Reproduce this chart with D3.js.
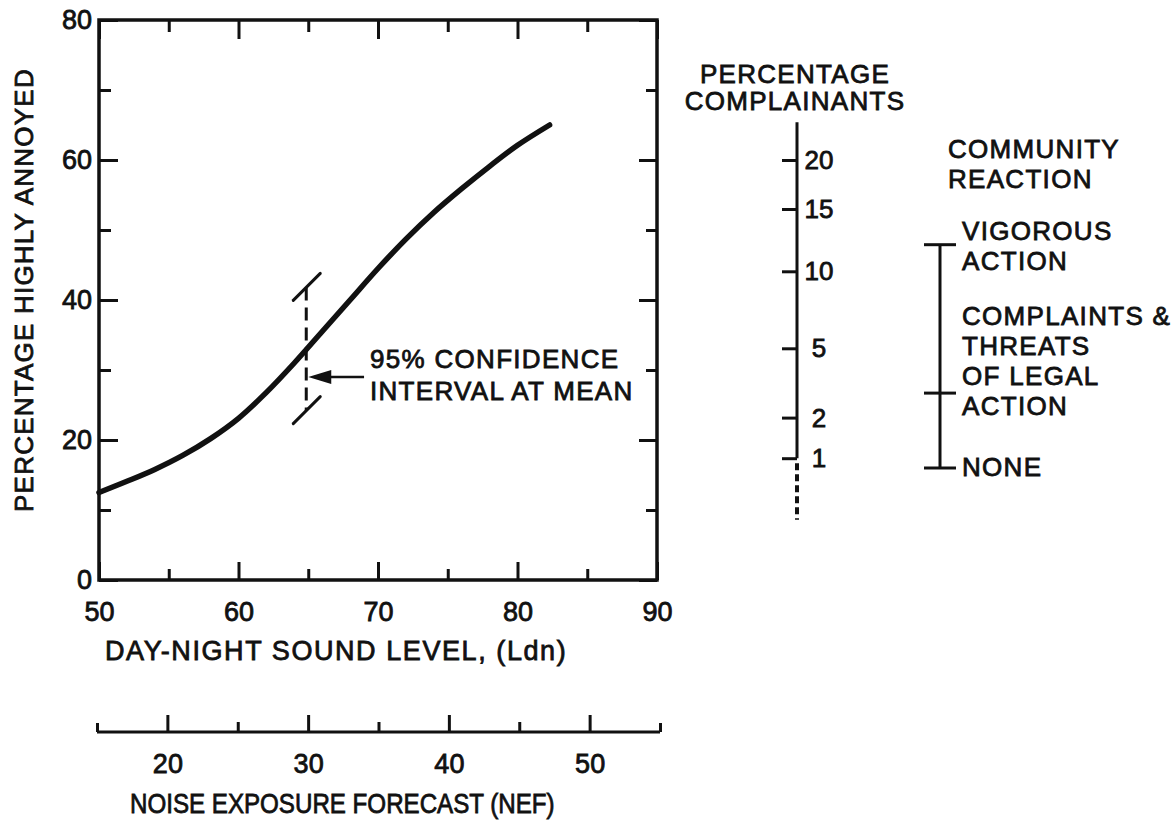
<!DOCTYPE html>
<html>
<head>
<meta charset="utf-8">
<script src="https://cdn.jsdelivr.net/npm/d3@7"></script>
<style>
  html, body { margin: 0; padding: 0; background: #fff; }
  #container { width: 1176px; height: 820px; }
  text { font-family: "Liberation Sans", Arial, Helvetica, sans-serif; fill: #111; stroke: #111; stroke-width: 0.8px; }
  .lbl { letter-spacing: 1.3px; }
</style>
</head>
<body>
<div id="container"></div>
<script>
// curve: day-night level vs % highly annoyed
let ldn        = [50, 52, 54, 56, 58, 60, 62, 64, 66, 68, 70, 72, 74, 76, 78, 80, 82.3];
let pctAnnoyed = [12.5, 14.1, 15.8, 17.8, 20.2, 23.1, 26.8, 31.0, 35.5, 40.0, 44.5, 48.7, 52.5, 55.9, 59.1, 62.1, 65.0];

let ldnMajor = [50, 60, 70, 80, 90];
let ldnMinor = [55, 65, 75, 85];
let annoyedMajor = [0, 20, 40, 60, 80];
let annoyedMinor = [10, 30, 50, 70];

// confidence interval at the mean
let ciLdn = 65, ciUpper = 41.8, ciLower = 24.2;
let ciArrowAt = 29, ciArrowFrom = 69;

// percentage complainants, and where each tick sits on the annoyance scale
let complainantTicks   = [1, 2, 5, 10, 15, 20];
let complainantAnnoyed = [17.4, 23.2, 33.1, 44.1, 53.0, 60.0];
let complainantTop = 65.4, complainantDashEnd = 8.6;

// community reaction levels
let reactionAnnoyed = [16.0, 26.7, 47.9];
let reactionLabels  = [['NONE'], ['COMPLAINTS &', 'THREATS', 'OF LEGAL', 'ACTION'], ['VIGOROUS', 'ACTION']];

// noise exposure forecast (NEF = Ldn - 35)
let nefMajor = [20, 30, 40, 50];
let nefMinor = [25, 35, 45];
let nefEnds  = [15, 55];

let viz = d3.select('#container')
    .append('svg')
      .attr('width', 1176)
      .attr('height', 820)
      .style('background', '#fff');

let x = d3.scaleLinear().domain([50, 90]).range([99, 657]);
let y = d3.scaleLinear().domain([0, 80]).range([580, 20]);
let nef = d3.scaleLinear().domain([15, 55]).range([97, 660]);
let comp = d3.scaleLinear().domain(complainantTicks).range(complainantAnnoyed.map(y));

function styleAxis(g, size) {
    g.attr('font-size', size).attr('font-family', null);
    g.select('.domain').remove();
    g.selectAll('.tick line').attr('stroke', '#111').attr('stroke-width', 3);
}

function main() {
    // main frame axes
    viz.append('g').attr('transform', 'translate(0,580)')
        .call(d3.axisBottom(x).tickValues(ldnMajor).tickSize(-18).tickPadding(22))
        .call(styleAxis, 27);
    viz.append('g').attr('transform', 'translate(0,580)')
        .call(d3.axisBottom(x).tickValues(ldnMinor).tickSize(-11).tickFormat(''))
        .call(styleAxis, 27);
    viz.append('g').attr('transform', 'translate(0,20)')
        .call(d3.axisTop(x).tickValues(ldnMajor).tickSize(-19).tickFormat(''))
        .call(styleAxis, 27);
    viz.append('g').attr('transform', 'translate(0,20)')
        .call(d3.axisTop(x).tickValues(ldnMinor).tickSize(-12).tickFormat(''))
        .call(styleAxis, 27);
    viz.append('g').attr('transform', 'translate(99,0)')
        .call(d3.axisLeft(y).tickValues(annoyedMajor).tickSize(-19).tickPadding(7))
        .call(styleAxis, 27);
    viz.append('g').attr('transform', 'translate(99,0)')
        .call(d3.axisLeft(y).tickValues(annoyedMinor).tickSize(-12).tickFormat(''))
        .call(styleAxis, 27);
    viz.append('g').attr('transform', 'translate(657,0)')
        .call(d3.axisRight(y).tickValues(annoyedMajor).tickSize(-18).tickFormat(''))
        .call(styleAxis, 27);
    viz.append('g').attr('transform', 'translate(657,0)')
        .call(d3.axisRight(y).tickValues(annoyedMinor).tickSize(-11).tickFormat(''))
        .call(styleAxis, 27);

    viz.append('rect')
        .attr('x', x(50)).attr('y', y(80))
        .attr('width', x(90) - x(50)).attr('height', y(0) - y(80))
        .attr('fill', 'none').attr('stroke', '#111').attr('stroke-width', 3.5);

    // axis titles
    viz.append('text').attr('class', 'lbl')
        .attr('transform', 'translate(33,290) rotate(-90)')
        .attr('text-anchor', 'middle').attr('font-size', 26)
        .attr('textLength', 444).attr('lengthAdjust', 'spacing')
        .text('PERCENTAGE HIGHLY ANNOYED');
    viz.append('text').attr('class', 'lbl')
        .attr('x', 105).attr('y', 660).attr('font-size', 27)
        .attr('textLength', 462).attr('lengthAdjust', 'spacing')
        .text('DAY-NIGHT SOUND LEVEL, (Ldn)');

    // the curve
    let line = d3.line().x(d => x(d[0])).y(d => y(d[1])).curve(d3.curveCatmullRom.alpha(0.5));
    viz.append('path')
        .datum(d3.zip(ldn, pctAnnoyed))
        .attr('d', line)
        .attr('fill', 'none').attr('stroke', '#111')
        .attr('stroke-width', 5.5).attr('stroke-linecap', 'round');

    // confidence interval
    let cx = x(ciLdn) - 2;
    viz.append('line')
        .attr('x1', cx).attr('x2', cx).attr('y1', y(ciUpper)).attr('y2', y(ciLower))
        .attr('stroke', '#111').attr('stroke-width', 3).attr('stroke-dasharray', '13,7');
    [ciUpper, ciLower].forEach(v => {
        viz.append('line')
            .attr('x1', cx - 13).attr('y1', y(v) + 13)
            .attr('x2', cx + 14).attr('y2', y(v) - 14)
            .attr('stroke', '#111').attr('stroke-width', 3).attr('stroke-linecap', 'round');
    });
    let ay = y(ciArrowAt);
    viz.append('line')
        .attr('x1', x(ciArrowFrom)).attr('x2', cx + 18).attr('y1', ay).attr('y2', ay)
        .attr('stroke', '#111').attr('stroke-width', 2.5);
    viz.append('path')
        .attr('d', 'M' + (cx + 2) + ',' + ay + 'L' + (cx + 25) + ',' + (ay - 7) + 'L' + (cx + 25) + ',' + (ay + 7) + 'Z')
        .attr('fill', '#111');
    viz.append('text').attr('class', 'lbl')
        .attr('x', 370).attr('y', 368).attr('font-size', 26)
        .text('95% CONFIDENCE');
    viz.append('text').attr('class', 'lbl')
        .attr('x', 370).attr('y', 400).attr('font-size', 26)
        .text('INTERVAL AT MEAN');

    // percentage complainants scale
    let px = 797;
    viz.append('text').attr('class', 'lbl').attr('text-anchor', 'middle')
        .attr('x', 795).attr('y', 83).attr('font-size', 26).text('PERCENTAGE');
    viz.append('text').attr('class', 'lbl').attr('text-anchor', 'middle')
        .attr('x', 795).attr('y', 110).attr('font-size', 26).text('COMPLAINANTS');
    viz.append('line')
        .attr('x1', px).attr('x2', px).attr('y1', y(complainantTop)).attr('y2', comp(1))
        .attr('stroke', '#111').attr('stroke-width', 3);
    viz.append('line')
        .attr('x1', px).attr('x2', px).attr('y1', comp(1) + 5).attr('y2', y(complainantDashEnd))
        .attr('stroke', '#111').attr('stroke-width', 4).attr('stroke-dasharray', '7,4');
    viz.append('g').attr('transform', 'translate(' + px + ',0)')
        .call(d3.axisLeft(comp).tickValues(complainantTicks).tickSize(15).tickFormat(''))
        .call(styleAxis, 26);
    viz.selectAll('.comp-label')
        .data(complainantTicks)
        .join('text')
        .attr('class', 'comp-label')
        .attr('x', 819).attr('y', d => comp(d)).attr('dy', '0.35em')
        .attr('text-anchor', 'middle').attr('font-size', 26)
        .text(d => d);

    // community reaction
    let rx = 940;
    viz.append('text').attr('class', 'lbl')
        .attr('x', 948).attr('y', 158).attr('font-size', 26).text('COMMUNITY');
    viz.append('text').attr('class', 'lbl')
        .attr('x', 948).attr('y', 188).attr('font-size', 26).text('REACTION');
    viz.append('line')
        .attr('x1', rx).attr('x2', rx)
        .attr('y1', y(d3.min(reactionAnnoyed))).attr('y2', y(d3.max(reactionAnnoyed)))
        .attr('stroke', '#111').attr('stroke-width', 3);
    viz.selectAll('.reaction-cap')
        .data(reactionAnnoyed)
        .join('line')
        .attr('class', 'reaction-cap')
        .attr('x1', rx - 16).attr('x2', rx + 16)
        .attr('y1', d => y(d)).attr('y2', d => y(d))
        .attr('stroke', '#111').attr('stroke-width', 3);
    reactionLabels.forEach((lines, i) => {
        let ty = y(reactionAnnoyed[i]);
        let first;
        if (i === 0) first = ty + 8;
        else if (i === 1) first = ty + 22 - 30 * (lines.length - 1);
        else first = ty - 5;
        lines.forEach((s, j) => {
            viz.append('text').attr('class', 'lbl')
                .attr('x', 962).attr('y', first + 30 * j)
                .attr('font-size', 26).text(s);
        });
    });

    // NEF scale
    let ny = 732;
    viz.append('line')
        .attr('x1', nef(15)).attr('x2', nef(55)).attr('y1', ny).attr('y2', ny)
        .attr('stroke', '#111').attr('stroke-width', 3);
    viz.append('g').attr('transform', 'translate(0,' + ny + ')')
        .call(d3.axisBottom(nef).tickValues(nefMajor).tickSize(-17).tickPadding(22))
        .call(styleAxis, 27);
    viz.append('g').attr('transform', 'translate(0,' + ny + ')')
        .call(d3.axisBottom(nef).tickValues(nefMinor).tickSize(-10).tickFormat(''))
        .call(styleAxis, 27);
    viz.append('g').attr('transform', 'translate(0,' + ny + ')')
        .call(d3.axisBottom(nef).tickValues(nefEnds).tickSize(-9).tickFormat(''))
        .call(styleAxis, 27);
    // condensed title: squeeze horizontally to the width seen in the figure
    let nefTitle = viz.append('text')
        .attr('font-size', 28)
        .text('NOISE EXPOSURE FORECAST (NEF)');
    let k = 425 / nefTitle.node().getComputedTextLength();
    nefTitle.attr('transform', 'translate(130,813) scale(' + k + ',1)');
}

main();
</script>
</body>
</html>
